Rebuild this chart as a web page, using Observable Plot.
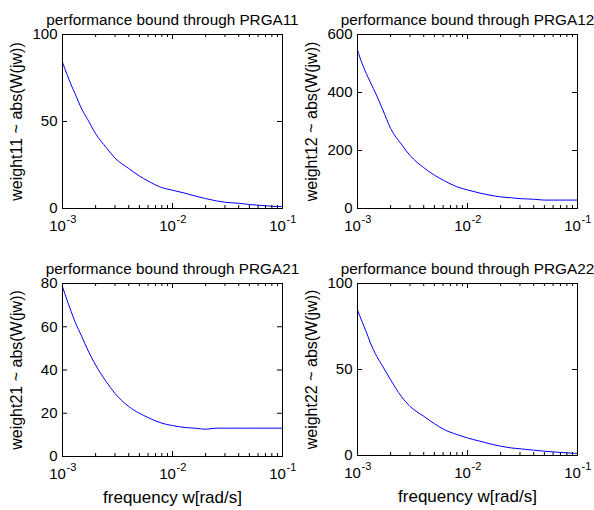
<!DOCTYPE html>
<html>
<head>
<meta charset="utf-8">
<script src="https://cdn.jsdelivr.net/npm/d3@7"></script>
<script src="https://cdn.jsdelivr.net/npm/@observablehq/plot@0.6"></script>
<style>
  html, body { margin: 0; padding: 0; background: #fff; }
  #chart { position: relative; width: 594px; height: 510px; background: #fff; overflow: hidden; }
</style>
</head>
<body>
<div id="chart"></div>
<script>
// ---- data ----
const freq = [0.001, 0.0011, 0.0012, 0.0013, 0.0015, 0.0017, 0.002, 0.0025, 0.003, 0.004, 0.005, 0.006, 0.008, 0.01, 0.013, 0.016, 0.02, 0.025, 0.03, 0.04, 0.05, 0.06, 0.08, 0.1];
const w11 = [84, 77, 71, 66, 57, 51, 43, 35, 29, 23, 18.7, 15.8, 12, 10.5, 8.8, 7.2, 5.7, 4.4, 3.6, 3.0, 2.3, 1.9, 1.3, 1.1];
const w12 = [546, 500, 466, 438, 388, 340, 276, 222, 183, 141, 115, 98, 75, 64, 53, 46, 40, 37, 34, 32, 29, 29, 29, 29];
const w21 = [78.5, 72.3, 67, 62.3, 55.4, 49.2, 42.3, 34.6, 29.2, 23.1, 20, 18, 15.4, 14.3, 13.4, 13.1, 12.6, 13.1, 13.1, 13.1, 13.1, 13.1, 13.1, 13.1];
const w22 = [84.6, 77.8, 72, 66, 57.5, 51.7, 44, 34.4, 28.6, 22.8, 18.5, 15.4, 12.2, 10.2, 8.3, 6.8, 5.4, 4.4, 3.9, 3.1, 2.5, 2.1, 1.5, 1.2];

const xMajor = [0.001, 0.01, 0.1];
const xExp = ["-3", "-2", "-1"];
const xMinor = [0.002, 0.003, 0.004, 0.005, 0.006, 0.007, 0.008, 0.009, 0.02, 0.03, 0.04, 0.05, 0.06, 0.07, 0.08, 0.09];

const yTicks11 = [0, 50, 100];
const yTicks12 = [0, 200, 400, 600];
const yTicks21 = [0, 20, 40, 60, 80];
const yTicks22 = [0, 50, 100];

const titles = ["performance bound through PRGA11", "performance bound through PRGA12", "performance bound through PRGA21", "performance bound through PRGA22"];
const yLabels = ["weight11 ~ abs(W(jw))", "weight12 ~ abs(W(jw))", "weight21 ~ abs(W(jw))", "weight22 ~ abs(W(jw))"];
const xLabel = "frequency w[rad/s]";

// ---- layout ----
const FONT = "'Liberation Sans', Arial, Helvetica, sans-serif";
const W = 297, ML = 62, MR = 15;
const panels = [
  {left: 0,   top: 0,   height: 250, mt: 34, mb: 42, values: w11, ymax: 100, yticks: yTicks11, title: titles[0], ylabel: yLabels[0], xlabel: null},
  {left: 295, top: 0,   height: 250, mt: 34, mb: 42, values: w12, ymax: 600, yticks: yTicks12, title: titles[1], ylabel: yLabels[1], xlabel: null},
  {left: 0,   top: 250, height: 260, mt: 33, mb: 54, values: w21, ymax: 80,  yticks: yTicks21, title: titles[2], ylabel: yLabels[2], xlabel: xLabel},
  {left: 295, top: 250, height: 260, mt: 33, mb: 55, values: w22, ymax: 100, yticks: yTicks22, title: titles[3], ylabel: yLabels[3], xlabel: xLabel}
];

const root = document.getElementById("chart");
for (const p of panels) {
  const boxH = p.height - p.mt - p.mb;
  const boxW = W - ML - MR;
  const rows = freq.map((f, i) => ({f, v: p.values[i]}));
  const marks = [
    Plot.line(rows, {x: "f", y: "v", stroke: "#0000ff", strokeWidth: 1, curve: "monotone-x"}),
    // inside ticks, all four sides
    Plot.tickX(xMajor, {x: d => d, insetTop: boxH - 5, stroke: "black"}),
    Plot.tickX(xMajor, {x: d => d, insetBottom: boxH - 5, stroke: "black"}),
    Plot.tickX(xMinor, {x: d => d, insetTop: boxH - 3, stroke: "black"}),
    Plot.tickX(xMinor, {x: d => d, insetBottom: boxH - 3, stroke: "black"}),
    Plot.tickY(p.yticks, {y: d => d, insetRight: boxW - 5, stroke: "black"}),
    Plot.tickY(p.yticks, {y: d => d, insetLeft: boxW - 5, stroke: "black"}),
    Plot.frame({stroke: "black"}),
    // y tick labels
    Plot.text(p.yticks, {y: d => d, text: d => String(d), frameAnchor: "left", textAnchor: "end", lineAnchor: "middle", dx: -5, fontSize: 15, fill: "black"}),
    // x tick labels: 10 with superscript exponent
    Plot.text(xMajor, {x: d => d, text: () => "10", frameAnchor: "bottom", textAnchor: "middle", lineAnchor: "bottom", dy: 22, dx: -5, fontSize: 15, fill: "black"}),
    Plot.text(xMajor, {x: d => d, text: (d, i) => xExp[i], frameAnchor: "bottom", lineAnchor: "bottom", textAnchor: "start", dy: 14, dx: 4, fontSize: 11, fill: "black"}),
    // title
    Plot.text([p.title], {frameAnchor: "top", textAnchor: "middle", lineAnchor: "bottom", dy: -10, fontSize: 15.3, fill: "black"}),
    // y label
    Plot.text([p.ylabel], {frameAnchor: "left", rotate: -90, textAnchor: "middle", lineAnchor: "middle", dx: -46, fontSize: 16, fill: "black"})
  ];
  if (p.xlabel) {
    marks.push(Plot.text([p.xlabel], {frameAnchor: "bottom", textAnchor: "middle", lineAnchor: "bottom", dy: 46, fontSize: 17, fill: "black"}));
  }
  const svg = Plot.plot({
    width: W,
    height: p.height,
    marginLeft: ML,
    marginRight: MR,
    marginTop: p.mt,
    marginBottom: p.mb,
    x: {type: "log", domain: [0.001, 0.1], axis: null},
    y: {type: "linear", domain: [0, p.ymax], axis: null},
    style: {fontFamily: FONT, background: "transparent", color: "black", overflow: "visible"},
    marks
  });
  svg.style.position = "absolute";
  svg.style.left = p.left + "px";
  svg.style.top = p.top + "px";
  root.appendChild(svg);
}
</script>
</body>
</html>
